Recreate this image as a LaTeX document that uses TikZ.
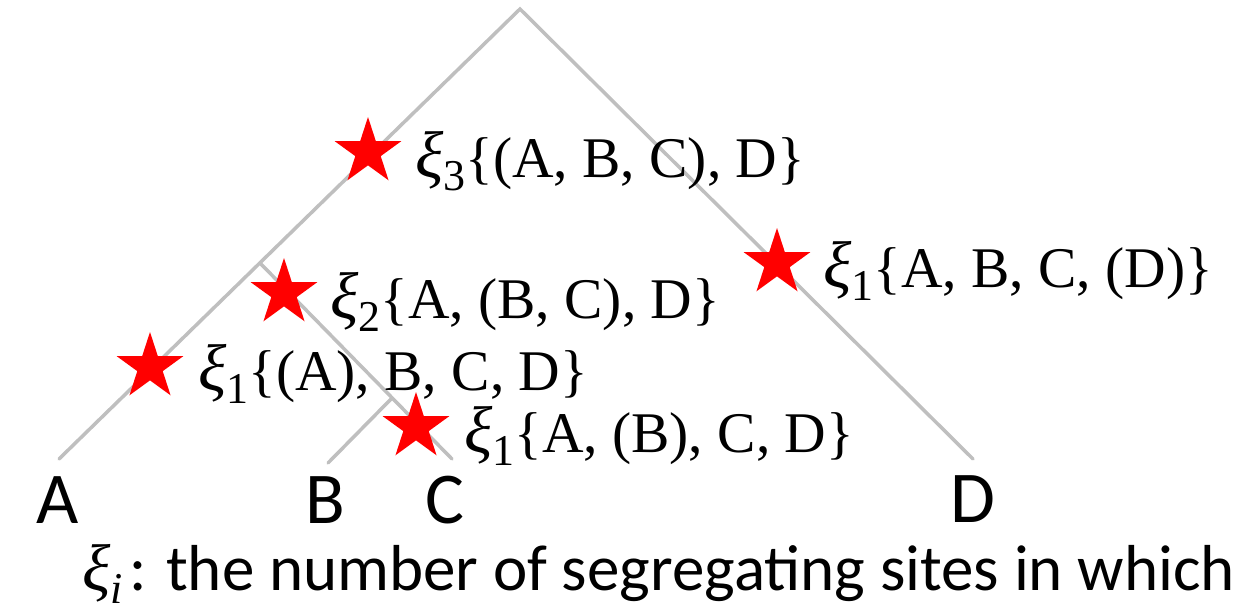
\documentclass[tikz,border=0pt]{standalone}
\usepackage{fontspec}
\newfontfamily\calibri{Carlito}
\newfontfamily\cambria{Liberation Serif}
\usetikzlibrary{shapes.geometric}
\definecolor{branchgray}{RGB}{191,191,191}
\definecolor{starred}{RGB}{255,0,0}
\newcommand\xisub[1]{{\fontsize{66}{66}\selectfont\itshape ξ}\raisebox{-0.24em}{\fontsize{44}{46}\selectfont #1}}
\tikzset{
  branch/.style={draw=branchgray, line width=3.5pt},
  mut/.style={star, star points=5, star point ratio=2.618, minimum size=70pt, inner sep=0pt, fill=starred, draw=none},
  mutlabel/.style={anchor=base west, inner sep=0pt, font=\cambria\fontsize{57.5}{60}\selectfont},
  leaflabel/.style={anchor=base, inner sep=0pt, font=\calibri\fontsize{73}{80}\selectfont},
}
\begin{document}
\begin{tikzpicture}[x=1pt,y=-1pt]
\useasboundingbox (0,0) rectangle (1239,611);
% tree coordinates
\coordinate (root) at (520,9);
\coordinate (endA) at (59,459);
\coordinate (nBCD) at (260,263);
\coordinate (nBC) at (392,398);
\coordinate (endB) at (328,463);
\coordinate (endC) at (452,459);
\coordinate (endD) at (973,459);
% branches
\draw[branch, line cap=round] (endA) -- (root) -- (endD);
\draw[branch, line cap=round] (nBCD) -- (endC);
\draw[branch, line cap=round] (nBC) -- (endB);
% mutations
\node[mut] (s3) at (368,152) {};
\node[mut] (sD) at (777,263) {};
\node[mut] (s2) at (284,293) {};
\node[mut] (sA) at (150,367) {};
\node[mut] (sB) at (416,427) {};
% labels
\node[mutlabel] (l3) at (415,177) {\xisub{3}\{(A, B, C), D\}};
\node[mutlabel] (lD) at (823,287) {\xisub{1}\{A, B, C, (D)\}};
\node[mutlabel] (l2) at (330,318) {\xisub{2}\{A, (B, C), D\}};
\node[mutlabel] (lA) at (198,390) {\xisub{1}\{(A), B, C, D\}};
\node[mutlabel] (lB) at (464,452) {\xisub{1}\{A, (B), C, D\}};
% leaves
\node[leaflabel] (A) at (58,523) {A};
\node[leaflabel] (B) at (325,523) {B};
\node[leaflabel] (C) at (445,523) {C};
\node[leaflabel] (D) at (973,522) {D};
% legend
\node[anchor=base west, inner sep=0pt, font=\cambria\fontsize{57.5}{60}\selectfont] (legsym) at (82,590) {\xisub{\itshape i}};
\node[anchor=base west, inner sep=0pt, font=\calibri\fontsize{65}{70}\selectfont] (legtext) at (129,590) {: the number of segregating sites in which};
\end{tikzpicture}
\end{document}
